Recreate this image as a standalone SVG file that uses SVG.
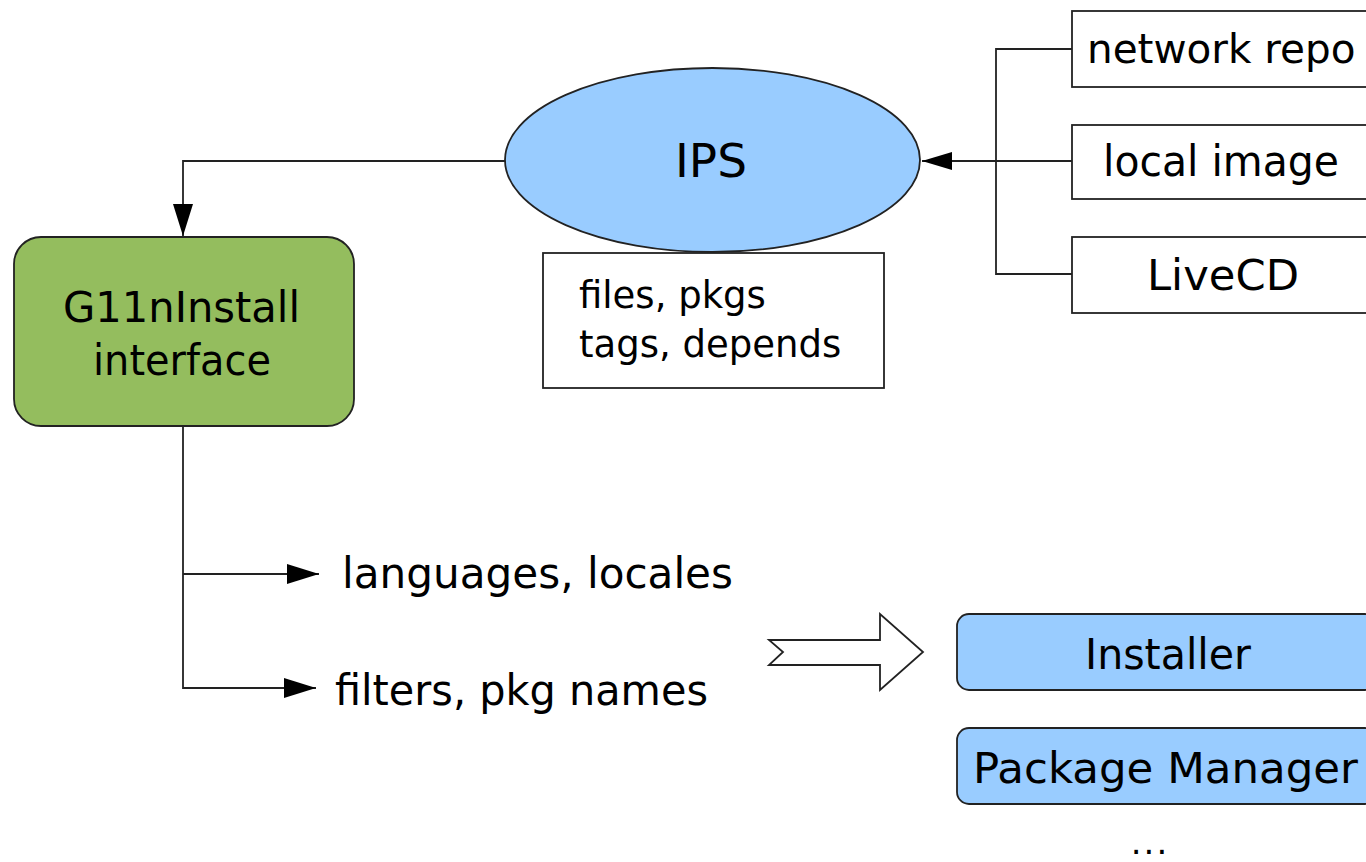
<svg xmlns="http://www.w3.org/2000/svg" width="1366" height="862" viewBox="0 0 1366 862">
  <style>
    text { font-family: "DejaVu Sans", "Liberation Sans", sans-serif; fill: #000; }
    .lbl { font-size: 43px; }
    .small { font-size: 37px; }
    .big { font-size: 47px; }
    .box { fill: #ffffff; stroke: #222222; stroke-width: 1.8; }
    .blue { fill: #99ccff; stroke: #222222; stroke-width: 1.8; }
    .green { fill: #94bd5e; stroke: #222222; stroke-width: 1.8; }
    .conn { fill: none; stroke: #222222; stroke-width: 1.8; }
  </style>
  <defs>
    <marker id="arrow" markerUnits="userSpaceOnUse" markerWidth="34" markerHeight="22" refX="32" refY="10" orient="auto">
      <path d="M0,0 L32,10 L0,20 Z" fill="#000"/>
    </marker>
    <marker id="arrowSm" markerUnits="userSpaceOnUse" markerWidth="32" markerHeight="20" refX="30" refY="9" orient="auto">
      <path d="M0,0 L30,9 L0,18 Z" fill="#000"/>
    </marker>
  </defs>
  <rect width="1366" height="862" fill="#ffffff"/>

  <g id="connectors">
    <path class="conn" d="M505,161 H183 V236" marker-end="url(#arrow)"/>
    <path class="conn" d="M1072,49 H996 V274 H1072"/>
    <path class="conn" d="M1072,161 H996"/>
    <path class="conn" d="M996,161 H922" marker-end="url(#arrowSm)"/>
    <path class="conn" d="M183,426 V688 H316" marker-end="url(#arrow)"/>
    <path class="conn" d="M183,574 H319" marker-end="url(#arrow)"/>
    <polygon class="box" stroke-width="1.4" points="769,640 880,640 880,614 923,652 880,690 880,665 769,665 783,652"/>
  </g>

  <g id="ips-data">
    <rect class="box" x="543" y="253" width="341" height="135"/>
    <text class="small" x="579" y="308">files, pkgs</text>
    <text class="small" x="579" y="357">tags, depends</text>
  </g>

  <g id="ips">
    <ellipse class="blue" stroke-width="1.3" cx="712.5" cy="160" rx="207.5" ry="92"/>
    <text class="big" x="675" y="177" textLength="72" lengthAdjust="spacingAndGlyphs">IPS</text>
  </g>

  <g id="network-repo">
    <rect class="box" x="1072" y="11" width="300" height="76"/>
    <text x="1087" y="63" font-size="40.5">network repo</text>
  </g>
  <g id="local-image">
    <rect class="box" x="1072" y="125" width="300" height="74"/>
    <text class="lbl" x="1103" y="176" textLength="236" lengthAdjust="spacingAndGlyphs">local image</text>
  </g>
  <g id="livecd">
    <rect class="box" x="1072" y="237" width="300" height="76"/>
    <text class="lbl" x="1147" y="290" textLength="152" lengthAdjust="spacingAndGlyphs">LiveCD</text>
  </g>

  <g id="g11ninstall">
    <rect class="green" x="14" y="237" width="340" height="189" rx="27" ry="27"/>
    <text class="lbl" x="63" y="322" textLength="237" lengthAdjust="spacingAndGlyphs">G11nInstall</text>
    <text class="lbl" x="93" y="375" textLength="178" lengthAdjust="spacingAndGlyphs">interface</text>
  </g>

  <g id="languages">
    <text class="lbl" x="342" y="588" textLength="391" lengthAdjust="spacingAndGlyphs">languages, locales</text>
  </g>
  <g id="filters">
    <text class="lbl" x="335" y="705" textLength="373" lengthAdjust="spacingAndGlyphs">filters, pkg names</text>
  </g>

  <g id="installer">
    <rect class="blue" x="957" y="614" width="420" height="76" rx="12" ry="12"/>
    <text class="lbl" x="1085" y="669" textLength="166" lengthAdjust="spacingAndGlyphs">Installer</text>
  </g>
  <g id="package-manager">
    <rect class="blue" x="957" y="728" width="420" height="76" rx="12" ry="12"/>
    <text class="lbl" x="973" y="783" textLength="385" lengthAdjust="spacingAndGlyphs">Package Manager</text>
  </g>
  <g id="more">
    <text x="1150" y="854" font-size="34" letter-spacing="2" text-anchor="middle">...</text>
  </g>
</svg>
